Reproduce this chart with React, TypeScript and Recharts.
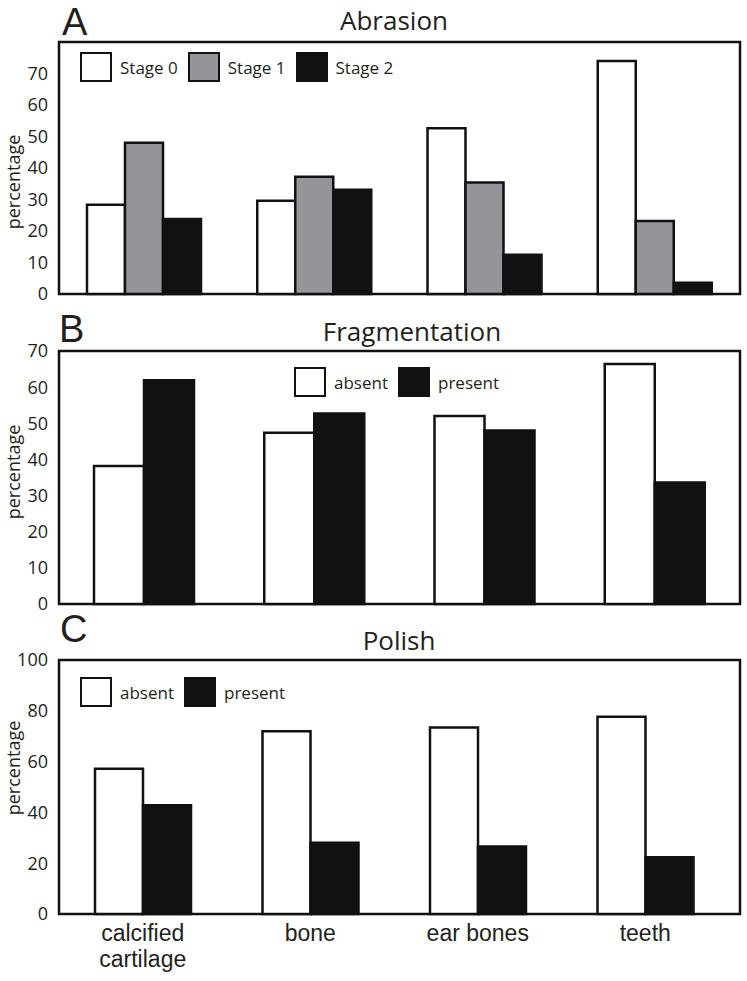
import { Bar, BarChart, Legend, ReferenceArea, XAxis, YAxis } from "recharts";

const FONT = '"Open Sans", "Noto Sans", sans-serif';
const LETTER_FONT = '"Liberation Sans", Arial, sans-serif';
const INK = "#231f20";
const EDGE = "#111111";

const categories = ["calcified cartilage", "bone", "ear bones", "teeth"];

const abrasionStage0 = [28.3, 29.6, 52.6, 74.0];
const abrasionStage1 = [48.0, 37.2, 35.4, 23.2];
const abrasionStage2 = [23.8, 33.1, 12.5, 3.6];

const fragmentationAbsent = [38.2, 47.4, 52.0, 66.4];
const fragmentationPresent = [61.9, 52.7, 48.0, 33.6];

const polishAbsent = [57.2, 71.9, 73.4, 77.7];
const polishPresent = [42.8, 28.1, 26.6, 22.3];

const abrasionTicks = [0, 10, 20, 30, 40, 50, 60, 70];
const fragmentationTicks = [0, 10, 20, 30, 40, 50, 60, 70];
const polishTicks = [0, 20, 40, 60, 80, 100];

type Series = { key: string; name: string; fill: string; values: number[] };

function buildRows(series: Series[]) {
  return categories.map((name, i) => {
    const row: Record<string, string | number> = { name };
    series.forEach((s) => {
      row[s.key] = s.values[i];
    });
    return row;
  });
}

function BoxLegend({ payload }: any) {
  return (
    <div style={{ display: "flex", alignItems: "center", fontFamily: FONT, fontSize: 17, color: INK }}>
      {(payload ?? []).map((entry: any) => (
        <div key={entry.value} style={{ display: "flex", alignItems: "center", marginRight: 10 }}>
          <span
            style={{
              display: "inline-block",
              width: 32,
              height: 30,
              boxSizing: "border-box",
              border: `2.5px solid ${EDGE}`,
              background: entry.color,
              marginRight: 8,
            }}
          />
          <span>{entry.value}</span>
        </div>
      ))}
    </div>
  );
}

// long category names go on two lines, as in the figure
function CategoryTick({ x, y, payload }: any) {
  const label = String(payload.value);
  const cut = label.indexOf(" ");
  const lines = label.length > 12 ? [label.slice(0, cut), label.slice(cut + 1)] : [label];
  return (
    <text x={x} y={y} textAnchor="middle" fill={INK} style={{ fontSize: 23, fontFamily: LETTER_FONT }}>
      {lines.map((line, i) => (
        <tspan key={line} x={x} dy={i === 0 ? 17 : 26}>
          {line}
        </tspan>
      ))}
    </text>
  );
}

type PanelProps = {
  top: number;
  height: number;
  series: Series[];
  max: number;
  ticks: number[];
  plotTop: number;
  plotBottom: number;
  barSize: number;
  legendTop: number;
  legendLeft: number;
  showCategories?: boolean;
  padRight?: number;
};

function Panel(p: PanelProps) {
  const data = buildRows(p.series);
  return (
    <div style={{ position: "absolute", left: 0, top: p.top, width: 747, height: p.height }}>
      <BarChart
        width={747}
        height={p.height}
        data={data}
        barGap={0}
        margin={{ top: p.plotTop, right: 7, bottom: p.showCategories ? 0 : p.height - p.plotBottom, left: 0 }}
      >
        {p.showCategories ? (
          <XAxis
            dataKey="name"
            height={p.height - p.plotBottom}
            axisLine={false}
            tickLine={false}
            tickSize={0}
            tickMargin={10}
            interval={0}
            padding={{ left: 0, right: p.padRight ?? 0 }}
            tick={(props: any) => <CategoryTick {...props} />}
          />
        ) : (
          <XAxis dataKey="name" hide padding={{ left: 0, right: p.padRight ?? 0 }} />
        )}
        <XAxis xAxisId="frame" dataKey="name" hide />
        <YAxis
          domain={[0, p.max]}
          ticks={p.ticks}
          interval={0}
          width={59}
          axisLine={false}
          tickLine={false}
          tickSize={0}
          tickMargin={11}
          tick={{ fontSize: 18, fill: INK, fontFamily: FONT }}
        />
        <Legend
          layout="horizontal"
          verticalAlign="middle"
          align="center"
          content={(props: any) => <BoxLegend {...props} />}
          wrapperStyle={{ top: p.legendTop, left: p.legendLeft, width: "auto" }}
        />
        {p.series.map((s) => (
          <Bar
            key={s.key}
            dataKey={s.key}
            name={s.name}
            fill={s.fill}
            stroke={EDGE}
            strokeWidth={2.5}
            barSize={p.barSize}
            isAnimationActive={false}
          />
        ))}
        <ReferenceArea
          xAxisId="frame"
          y1={0}
          y2={p.max}
          fill="none"
          fillOpacity={0}
          stroke={EDGE}
          strokeWidth={2.5}
          ifOverflow="visible"
        />
      </BarChart>
    </div>
  );
}

const panelLetters = [
  { text: "A", x: 62, y: 35 },
  { text: "B", x: 59, y: 342 },
  { text: "C", x: 60, y: 642 },
];
const panelTitles = [
  { text: "Abrasion", x: 394, y: 30 },
  { text: "Fragmentation", x: 412, y: 341 },
  { text: "Polish", x: 399, y: 650 },
];
const axisTitleCenters = [182, 472, 768];

export default function App() {
  return (
    <div
      style={{
        position: "absolute",
        left: 0,
        top: 0,
        width: 747,
        height: 981,
        background: "#ffffff",
        fontFamily: FONT,
        overflow: "hidden",
      }}
    >
      <Panel
        top={0}
        height={312}
        series={[
          { key: "stage0", name: "Stage 0", fill: "#ffffff", values: abrasionStage0 },
          { key: "stage1", name: "Stage 1", fill: "#939598", values: abrasionStage1 },
          { key: "stage2", name: "Stage 2", fill: EDGE, values: abrasionStage2 },
        ]}
        max={80}
        ticks={abrasionTicks}
        plotTop={42}
        plotBottom={294}
        barSize={38}
        legendTop={52}
        legendLeft={80}
      />
      <Panel
        top={300}
        height={320}
        series={[
          { key: "absent", name: "absent", fill: "#ffffff", values: fragmentationAbsent },
          { key: "present", name: "present", fill: EDGE, values: fragmentationPresent },
        ]}
        max={70}
        ticks={fragmentationTicks}
        plotTop={51}
        plotBottom={304}
        barSize={50}
        legendTop={67}
        legendLeft={294}
      />
      <Panel
        top={605}
        height={376}
        series={[
          { key: "absent", name: "absent", fill: "#ffffff", values: polishAbsent },
          { key: "present", name: "present", fill: EDGE, values: polishPresent },
        ]}
        max={100}
        ticks={polishTicks}
        plotTop={55}
        plotBottom={309}
        barSize={48}
        legendTop={72}
        legendLeft={80}
        showCategories
        padRight={11}
      />
      <svg
        width={747}
        height={981}
        style={{ position: "absolute", left: 0, top: 0, pointerEvents: "none" }}
      >
        {panelLetters.map((l) => (
          <text key={l.text} x={l.x} y={l.y} fontFamily={LETTER_FONT} fontSize={38} fill={INK}>
            {l.text}
          </text>
        ))}
        {panelTitles.map((t) => (
          <text key={t.text} x={t.x} y={t.y} textAnchor="middle" fontFamily={FONT} fontSize={26} fill={INK}>
            {t.text}
          </text>
        ))}
        {axisTitleCenters.map((cy) => (
          <text
            key={cy}
            x={13}
            y={cy}
            transform={`rotate(-90, 13, ${cy})`}
            textAnchor="middle"
            dominantBaseline="central"
            fontFamily={FONT}
            fontSize={18}
            fill={INK}
          >
            percentage
          </text>
        ))}
      </svg>
    </div>
  );
}
